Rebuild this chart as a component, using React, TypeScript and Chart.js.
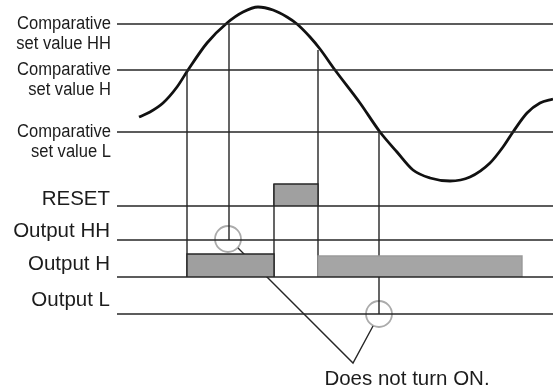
import React, { useEffect, useRef } from "react";
import { Chart, registerables } from "chart.js";

Chart.register(...registerables);

// Time axis spans 0..553, level axis spans 0..389 (top to bottom)
const T_MIN = 0;
const T_MAX = 553;
const LEVEL_MIN = 0;
const LEVEL_MAX = 389;

const lineStartT = 117;
const lineEndT = 553;

// Comparative set values (HH, H, L)
const thresholdLabels = [["Comparative", "set value HH"], ["Comparative", "set value H"], ["Comparative", "set value L"]];
const thresholdLevels = [24, 70, 132];

// Output rows
const outputLabels = ["RESET", "Output HH", "Output H", "Output L"];
const outputLevels = [206, 240, 277, 314];

// Measured signal
const signalT = [139, 150, 163, 177, 188, 207, 227, 243, 258, 273, 287, 297, 310, 320, 335, 360, 380, 397, 413, 430, 450, 470, 490, 503, 513, 527, 540, 553];
const signalV = [117, 112, 103, 87, 70, 43, 23, 12, 7, 10, 17, 24, 37, 49, 70, 103, 132, 152, 170, 178, 181, 177, 163, 147, 132, 113, 103, 99];

// Event markers (vertical lines)
const eventT = [187, 229, 274, 318, 379];
const eventTop = [70, 24, 184, 50, 132];
const eventBottom = [277, 240, 277, 277, 314];

// ON pulses: [start, end, top, base]
const resetPulse = [274, 318, 184, 206];
const outputHPulse1 = [187, 274, 254, 277];
const outputHPulse2 = [318, 522, 256, 277];

// "Does not turn ON." markers
const markerT = [228, 379];
const markerV = [239, 314];
const calloutT = [238, 353, 373];
const calloutV = [248, 363, 326];
const calloutText = "Does not turn ON.";

const DARK = "#262626";

function seg(t0: number, v0: number, t1: number, v1: number) {
  return [{ x: t0, y: v0 }, { x: t1, y: v1 }];
}

function lineDs(data: any[], color = DARK, width = 1.4) {
  return {
    data,
    borderColor: color,
    borderWidth: width,
    pointRadius: 0,
    showLine: true,
    fill: false,
    tension: 0,
    clip: false as any,
  };
}

function pulseDs(p: number[], fillColor: string, edgeColor: string) {
  const [t0, t1, top, base] = p;
  return {
    data: [
      { x: t0, y: base },
      { x: t0, y: top },
      { x: t1, y: top },
      { x: t1, y: base },
    ],
    borderColor: edgeColor,
    borderWidth: 1.4,
    backgroundColor: fillColor,
    pointRadius: 0,
    showLine: true,
    fill: { value: base },
    tension: 0,
    clip: false as any,
  };
}

function narrowText(ctx: CanvasRenderingContext2D, text: string, rightX: number, y: number, sx: number) {
  ctx.save();
  ctx.translate(rightX, y);
  ctx.scale(sx, 1);
  ctx.fillText(text, 0, 0);
  ctx.restore();
}

const textPlugin = {
  id: "diagramText",
  afterDatasetsDraw(chart: any) {
    const ctx = chart.ctx as CanvasRenderingContext2D;
    const xs = chart.scales.x;
    const ys = chart.scales.y;
    ctx.save();
    ctx.fillStyle = "#1c1c1c";
    ctx.textAlign = "right";
    ctx.textBaseline = "alphabetic";
    const rightPx = xs.getPixelForValue(lineStartT) - 6;
    ctx.font = "18px 'Liberation Sans', Arial, sans-serif";
    thresholdLabels.forEach((lines, i) => {
      const yPx = ys.getPixelForValue(thresholdLevels[i]);
      narrowText(ctx, lines[0], rightPx, yPx + 5, 0.92);
      narrowText(ctx, lines[1], rightPx, yPx + 25, 0.92);
    });
    ctx.font = "20.5px 'Liberation Sans', Arial, sans-serif";
    outputLabels.forEach((label, i) => {
      const yPx = ys.getPixelForValue(outputLevels[i]);
      ctx.fillText(label, rightPx - 1, yPx - 1 - (i === 1 ? 2 : i === 2 ? 6 : i === 3 ? 7 : 0));
    });
    ctx.textAlign = "center";
    ctx.fillText(calloutText, xs.getPixelForValue(407), ys.getPixelForValue(385));
    ctx.restore();
  },
};

export default function App() {
  const ref = useRef<HTMLCanvasElement | null>(null);

  useEffect(() => {
    if (!ref.current) return;
    const datasets: any[] = [];

    thresholdLevels.forEach((lv) => datasets.push(lineDs(seg(lineStartT, lv, lineEndT, lv))));
    outputLevels.forEach((lv) => datasets.push(lineDs(seg(lineStartT, lv, lineEndT, lv))));

    datasets.push(pulseDs(outputHPulse2, "#a5a5a5", "#9a9a9a"));
    datasets.push(pulseDs(outputHPulse1, "#9f9f9f", DARK));
    datasets.push(pulseDs(resetPulse, "#a0a0a0", DARK));

    eventT.forEach((t, i) => datasets.push(lineDs(seg(t, eventTop[i], t, eventBottom[i]))));

    datasets.push(
      lineDs(
        calloutT.map((t, i) => ({ x: t, y: calloutV[i] })),
        DARK,
        1.4
      )
    );

    datasets.push({
      data: markerT.map((t, i) => ({ x: t, y: markerV[i] })),
      showLine: false,
      pointRadius: 13,
      pointBorderWidth: 1.8,
      pointBorderColor: "#ababab",
      pointBackgroundColor: "rgba(0,0,0,0)",
      clip: false,
    });

    datasets.push({
      data: signalT.map((t, i) => ({ x: t, y: signalV[i] })),
      borderColor: "#111111",
      borderWidth: 2.8,
      pointRadius: 0,
      showLine: true,
      fill: false,
      cubicInterpolationMode: "monotone",
      clip: false,
    });

    const chart = new Chart(ref.current, {
      type: "line",
      data: { datasets },
      options: {
        animation: false,
        responsive: false,
        maintainAspectRatio: false,
        layout: { padding: 0, autoPadding: false },
        plugins: { legend: { display: false }, tooltip: { enabled: false } },
        events: [],
        scales: {
          x: { type: "linear", min: T_MIN, max: T_MAX, display: false },
          y: { type: "linear", min: LEVEL_MIN, max: LEVEL_MAX, reverse: true, display: false },
        },
      },
      plugins: [textPlugin],
    });
    return () => chart.destroy();
  }, []);

  return (
    <div style={{ position: "fixed", left: 0, top: 0, width: 553, height: 389, background: "#fff" }}>
      <canvas ref={ref} width={553} height={389} />
    </div>
  );
}
